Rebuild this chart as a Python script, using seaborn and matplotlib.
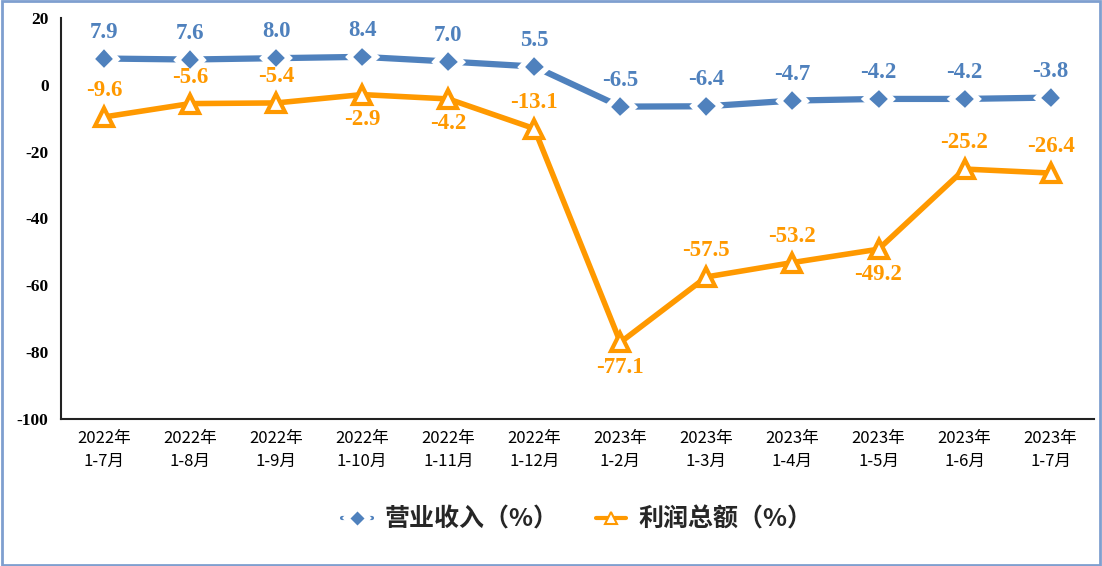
import matplotlib
matplotlib.use("Agg")
import matplotlib.pyplot as plt
import matplotlib.patheffects as pe
import seaborn as sns
import numpy as np
import pandas as pd

# --- 数据 ---
periods = ["2022年\n1-7月", "2022年\n1-8月", "2022年\n1-9月", "2022年\n1-10月", "2022年\n1-11月", "2022年\n1-12月",
           "2023年\n1-2月", "2023年\n1-3月", "2023年\n1-4月", "2023年\n1-5月", "2023年\n1-6月", "2023年\n1-7月"]
revenue = [7.9, 7.6, 8.0, 8.4, 7.0, 5.5, -6.5, -6.4, -4.7, -4.2, -4.2, -3.8]
profit = [-9.6, -5.6, -5.4, -2.9, -4.2, -13.1, -77.1, -57.5, -53.2, -49.2, -25.2, -26.4]
profit_below = [3, 4, 6, 9]  # 标签放在点下方的位置

blue = "#4F81BD"
orange = "#FF9900"

sns.set_theme(style="white")
plt.rcParams['font.family'] = ['Noto Sans CJK SC', 'DejaVu Sans']
plt.rcParams['axes.unicode_minus'] = False

fig = plt.figure(figsize=(11.02, 5.66), dpi=100)
ax = fig.add_axes([0.0554, 0.26, 0.937, 0.708])

x = np.arange(len(periods))
df = pd.DataFrame({"x": x, "营业收入（%）": revenue, "利润总额（%）": profit})

sns.lineplot(data=df, x="x", y="营业收入（%）", ax=ax, color=blue, lw=4.5, marker="D",
             markersize=10.5, markeredgecolor="white", markeredgewidth=1.2,
             label="营业收入（%）", zorder=3,
             path_effects=[pe.Stroke(linewidth=7, foreground="white"), pe.Normal()])
sns.lineplot(data=df, x="x", y="利润总额（%）", ax=ax, color=orange, lw=4, marker="^",
             markersize=13, markerfacecolor="white", markeredgecolor=orange, markeredgewidth=3,
             label="利润总额（%）", zorder=3)

serif_bold = dict(family=["Liberation Serif", "DejaVu Serif"], fontweight="bold", fontsize=16.5)
for i, v in enumerate(revenue):
    ax.annotate(f"{v:.1f}", (i, v), xytext=(0, 19), textcoords="offset points",
                ha="center", va="center", color=blue, **serif_bold)
for i, v in enumerate(profit):
    dy = -18 if i in profit_below else 19
    ax.annotate(f"{v:.1f}", (i, v), xytext=(0, dy), textcoords="offset points",
                ha="center", va="center", color=orange, **serif_bold)

ax.set_xlim(-0.5, len(periods) - 0.5)
ax.set_ylim(-100, 20)
ax.set_yticks(np.arange(-100, 21, 20))
ax.set_yticklabels([str(t) for t in range(-100, 21, 20)],
                   fontdict=dict(family=["Liberation Serif"], fontweight="bold", fontsize=12.5))
ax.set_xticks(x)
ax.set_xticklabels(periods, fontsize=12, linespacing=1.45)
ax.tick_params(axis="both", length=0, colors="black")
ax.tick_params(axis="y", pad=9)
ax.tick_params(axis="x", pad=8)
ax.set_xlabel("")
ax.set_ylabel("")
for s in ["top", "right"]:
    ax.spines[s].set_visible(False)
for s in ["left", "bottom"]:
    ax.spines[s].set_color("#222222")
    ax.spines[s].set_linewidth(1.5)

leg = ax.legend(loc="upper center", bbox_to_anchor=(0.5, -0.165), ncol=2, frameon=False,
                prop=dict(family="Noto Sans CJK SC", weight="bold", size=18),
                columnspacing=1.5, handlelength=1.2, handletextpad=0.5)
for h in leg.legend_handles:
    h.set_linewidth(3)
    h.set_markersize(8)
    h.set_markeredgewidth(1.5 if h.get_marker() == "^" else 1)

fig.patches.append(plt.Rectangle((0.002, 0.002), 0.996, 0.996, transform=fig.transFigure,
                                 fill=False, edgecolor="#7F9FCF", linewidth=2))

fig.savefig("out.png", dpi=100)
